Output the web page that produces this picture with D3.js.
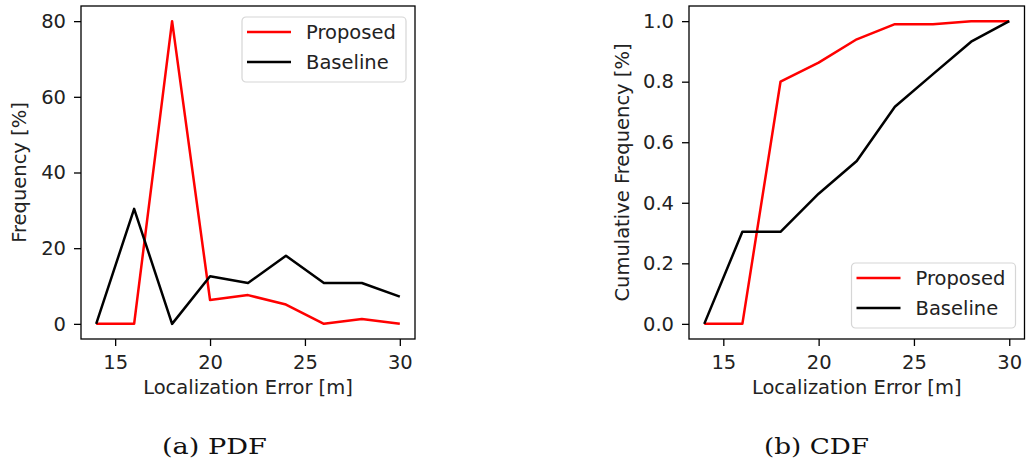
<!DOCTYPE html>
<html>
<head>
<meta charset="utf-8">
<script src="https://cdn.jsdelivr.net/npm/d3@7"></script>
<style>
  body { margin: 0; background: #fff; }
  svg { display: block; }
</style>
</head>
<body>
<div id="chart"></div>
<script>
const width = 1026;
const height = 466;

// localization error bins [m]
const errors = [14, 16, 18, 20, 22, 24, 26, 28, 30];

// PDF, frequency [%]
const pdfProposed = [0, 0, 80, 6.3, 7.6, 5.1, 0, 1.3, 0];
const pdfBaseline = [0, 30.4, 0, 12.6, 10.8, 18.0, 10.8, 10.8, 7.2];

// CDF, cumulative frequency
const cdfProposed = [0, 0, 0.80, 0.863, 0.94, 0.99, 0.99, 1.0, 1.0];
const cdfBaseline = [0, 0.304, 0.304, 0.43, 0.538, 0.717, 0.825, 0.932, 1.0];

const xTicks = [15, 20, 25, 30];
const pdfTicks = [0, 20, 40, 60, 80];
const cdfTicks = [0, 0.2, 0.4, 0.6, 0.8, 1.0];

const seriesNames = ["Proposed", "Baseline"];
const seriesColors = ["#ff0000", "#000000"];

const fontFamily = "'DejaVu Sans', sans-serif";
const fontSize = 19.5;
const textColor = "#222";

const svg = d3.select("#chart").append("svg")
  .attr("width", width)
  .attr("height", height)
  .attr("font-family", fontFamily);

function drawPanel(opts) {
  const { left, right, top, bottom, yDomain, yTicks, yFormat, ys, yLabel, legendPos, caption, captionX } = opts;

  const x = d3.scaleLinear().domain([13.2, 30.8]).range([left, right]);
  const y = d3.scaleLinear().domain(yDomain).range([bottom, top]);

  const g = svg.append("g");

  // lines
  const line = d3.line()
    .x((d, i) => x(errors[i]))
    .y(d => y(d));

  ys.forEach((vals, k) => {
    g.append("path")
      .datum(vals)
      .attr("fill", "none")
      .attr("stroke", seriesColors[k])
      .attr("stroke-width", 2.5)
      .attr("stroke-linejoin", "round")
      .attr("d", line);
  });

  // frame
  g.append("rect")
    .attr("x", left).attr("y", top)
    .attr("width", right - left).attr("height", bottom - top)
    .attr("fill", "none")
    .attr("stroke", "#000")
    .attr("stroke-width", 1.3);

  // axes
  const xAxis = g.append("g")
    .attr("transform", `translate(0,${bottom})`)
    .call(d3.axisBottom(x).tickValues(xTicks).tickSize(7).tickPadding(9));
  const yAxis = g.append("g")
    .attr("transform", `translate(${left},0)`)
    .call(d3.axisLeft(y).tickValues(yTicks).tickFormat(yFormat).tickSize(7).tickPadding(8));

  [xAxis, yAxis].forEach(a => {
    a.select(".domain").remove();
    a.selectAll(".tick line").attr("stroke", "#000").attr("stroke-width", 1.3);
    a.selectAll(".tick text")
      .attr("fill", textColor)
      .attr("font-size", fontSize)
      .attr("font-family", fontFamily);
  });

  // axis labels
  g.append("text")
    .attr("x", (left + right) / 2)
    .attr("y", bottom + 55)
    .attr("text-anchor", "middle")
    .attr("font-size", fontSize)
    .attr("fill", textColor)
    .text("Localization Error [m]");

  g.append("text")
    .attr("transform", `translate(${opts.yLabelX},${(top + bottom) / 2}) rotate(-90)`)
    .attr("text-anchor", "middle")
    .attr("font-size", fontSize)
    .attr("fill", textColor)
    .text(yLabel);

  // legend
  const lw = 164, lh = 65;
  const lx = right - 9 - lw;
  const ly = legendPos === "upper" ? top + 11 : bottom - 11 - lh;
  const leg = g.append("g").attr("transform", `translate(${lx},${ly})`);
  leg.append("rect")
    .attr("width", lw).attr("height", lh)
    .attr("rx", 4)
    .attr("fill", "rgba(255,255,255,0.8)")
    .attr("stroke", "#d6d6d6")
    .attr("stroke-width", 1.2);
  seriesNames.forEach((name, k) => {
    const yy = 15 + k * 30;
    leg.append("line")
      .attr("x1", 5).attr("x2", 49)
      .attr("y1", yy).attr("y2", yy)
      .attr("stroke", seriesColors[k])
      .attr("stroke-width", 2.5);
    leg.append("text")
      .attr("x", 64).attr("y", yy + 7)
      .attr("font-size", fontSize)
      .attr("fill", textColor)
      .text(name);
  });

  // caption
  svg.append("text")
    .attr("x", captionX)
    .attr("y", 454)
    .attr("font-family", "'DejaVu Serif', serif")
    .attr("font-size", 23)
    .attr("textLength", 105)
    .attr("lengthAdjust", "spacingAndGlyphs")
    .attr("fill", "#111")
    .text(caption);
}

drawPanel({
  left: 81, right: 415, top: 6, bottom: 339,
  yDomain: [-4, 84], yTicks: pdfTicks, yFormat: d3.format("d"),
  ys: [pdfProposed, pdfBaseline],
  yLabel: "Frequency [%]", yLabelX: 26,
  legendPos: "upper",
  caption: "(a) PDF", captionX: 162
});

drawPanel({
  left: 689, right: 1024.5, top: 6, bottom: 339,
  yDomain: [-0.05, 1.05], yTicks: cdfTicks, yFormat: d3.format(".1f"),
  ys: [cdfProposed, cdfBaseline],
  yLabel: "Cumulative Frequency [%]", yLabelX: 629,
  legendPos: "lower",
  caption: "(b) CDF", captionX: 764
});
</script>
</body>
</html>
